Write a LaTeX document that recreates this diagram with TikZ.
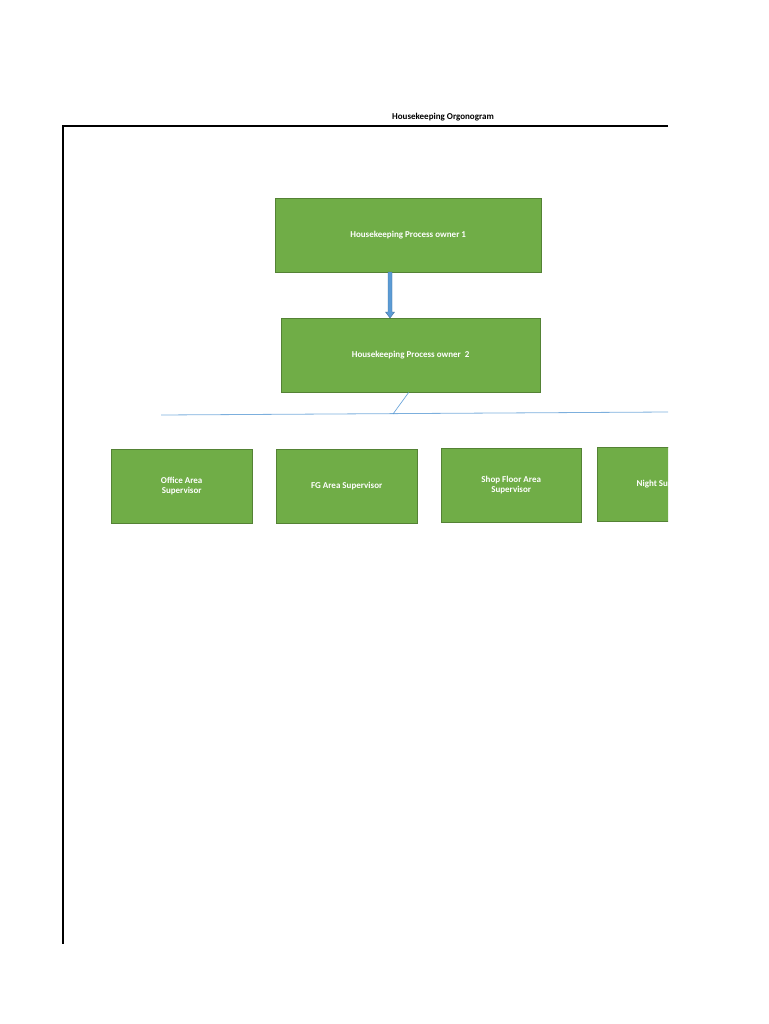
\documentclass[tikz,border=0pt]{standalone}
\usepackage{fontspec}
\setmainfont{Carlito}
\definecolor{boxg}{HTML}{70AD47}
\definecolor{boxb}{HTML}{548235}
\definecolor{lineb}{HTML}{5B9BD5}
\begin{document}
\begin{tikzpicture}[x=1pt,y=-1pt,
  box/.style={draw=boxb,fill=boxg,text=white,font=\fontsize{9}{10}\selectfont\bfseries,align=center,inner sep=0pt,anchor=north west}]
\useasboundingbox (0,0) rectangle (768,1024);
\node[font=\fontsize{9}{10}\selectfont\bfseries] (title) at (443,117) {Housekeeping Orgonogram};
\draw[line width=1.2pt] (668,126) -- (63,126) -- (63,944);
\node[box,minimum width=266pt,minimum height=74pt] (p1) at (275,198) {Housekeeping Process owner 1};
\node[box,minimum width=259pt,minimum height=74pt] (p2) at (281,318) {Housekeeping Process owner\ \ 2};
\draw[draw=lineb!70!black,fill=lineb,line width=0.4pt] (388,272) -- (392,272) -- (392,312) -- (394.5,312) -- (390,318) -- (385.5,312) -- (388,312) -- cycle;
\node[box,minimum width=141pt,minimum height=74pt] (s1) at (111,449) {Office Area\\Supervisor};
\node[box,minimum width=141pt,minimum height=74pt] (s2) at (276,449) {FG Area Supervisor};
\node[box,minimum width=140pt,minimum height=74pt] (s3) at (441,448) {Shop Floor Area\\Supervisor};
\begin{scope}
\clip (590,440) rectangle (668,530);
\node[box,minimum width=141pt,minimum height=74pt] (s4) at (597,447) {Night Supervisor};
\end{scope}
\coordinate (bl) at (161,415);
\coordinate (br) at (668,412);
\coordinate (bm) at (393,414);
\draw[lineb!80,line width=0.8pt] (bl) -- (br);
\draw[lineb,line width=0.6pt] (p2.south) ++(-2,0) -- (bm);
\end{tikzpicture}
\end{document}
